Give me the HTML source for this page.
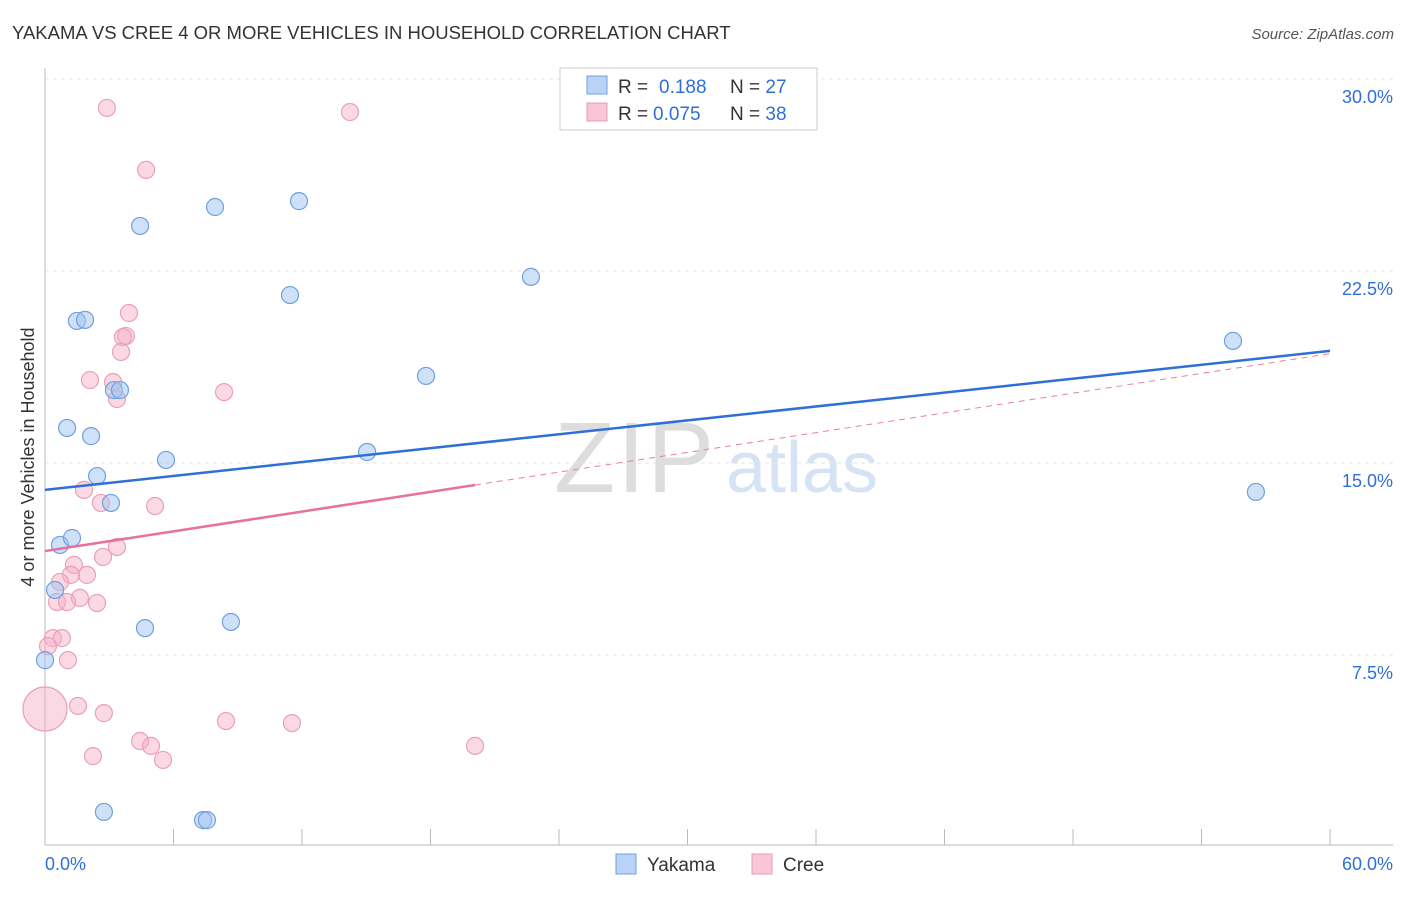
<!DOCTYPE html>
<html><head><meta charset="utf-8"><style>
body{margin:0;background:#fff;font-family:"Liberation Sans",sans-serif;}
svg text{font-family:"Liberation Sans",sans-serif;}
</style></head><body>
<svg id="c" width="1406" height="892" xmlns="http://www.w3.org/2000/svg">
<text x="12" y="39" font-size="18.5" fill="#333">YAKAMA VS CREE 4 OR MORE VEHICLES IN HOUSEHOLD CORRELATION CHART</text>
<text x="1394" y="39" font-size="15" fill="#555" font-style="italic" text-anchor="end">Source: ZipAtlas.com</text>
<text x="634" y="492" font-size="100" fill="#ddd" font-family="Liberation Serif" text-anchor="middle" textLength="160">ZIP</text>
<text x="802" y="492" font-size="72" fill="#d6e3f5" text-anchor="middle">atlas</text>
<g id="grid"></g><g id="axes"></g><g id="marks"></g>
<text transform="translate(34,457) rotate(-90)" font-size="18" fill="#333" text-anchor="middle">4 or more Vehicles in Household</text>
<g>
<rect x="560" y="68" width="257" height="62" fill="#fff" stroke="#ccc"/>
<rect x="587" y="76" width="20" height="18" fill="#b8d3f5" stroke="#6fa0e0"/>
<rect x="587" y="103" width="20" height="18" fill="#f9c6d6" stroke="#e99ab4"/>
<text x="618" y="93" font-size="19" fill="#333">R = </text>
<text x="659" y="93" font-size="19" fill="#2f6fd6">0.188</text>
<text x="730" y="93" font-size="19" fill="#333">N = <tspan fill="#2f6fd6">27</tspan></text>
<text x="618" y="120" font-size="19" fill="#333">R = </text>
<text x="653" y="120" font-size="19" fill="#2f6fd6">0.075</text>
<text x="730" y="120" font-size="19" fill="#333">N = <tspan fill="#2f6fd6">38</tspan></text>
</g>
<g>
<rect x="616" y="854" width="20" height="20" fill="#b8d3f5" stroke="#6fa0e0"/>
<text x="647" y="871" font-size="19" fill="#333">Yakama</text>
<rect x="752" y="854" width="20" height="20" fill="#f9c6d6" stroke="#e99ab4"/>
<text x="783" y="871" font-size="19" fill="#333">Cree</text>
</g>
</svg>
<script>
const yTicks=[30,22.5,15,7.5];
const yTickLabels=["30.0%","22.5%","15.0%","7.5%"];
const xTickLabels=["0.0%","60.0%"];
const yakamaX=[4.44,7.94,11.86,11.44,22.69,1.49,1.87,17.79,55.47,3.22,3.50,1.03,2.15,5.65,15.04,2.43,3.08,56.54,0.70,1.26,0.47,4.67,8.68,0,2.75,7.38,7.56];
const yakamaY=[24.26,25.0,25.23,21.56,22.27,20.55,20.59,18.40,19.77,17.85,17.85,16.37,16.05,15.12,15.43,14.49,13.44,13.87,11.80,12.07,10.04,8.55,8.79,7.30,1.37,1.05,1.05];
const creeX=[2.89,14.24,4.72,3.92,3.78,3.64,3.55,2.10,3.18,8.36,3.36,1.82,2.61,5.14,3.36,2.71,1.35,1.21,1.96,0.70,1.63,0.56,1.03,2.43,0.37,0.79,0.14,1.07,0,1.54,2.75,8.45,11.53,4.44,4.95,5.51,2.24,20.08];
const creeY=[28.87,28.71,26.45,20.86,19.96,19.92,19.34,18.24,18.16,17.77,17.5,13.95,13.44,13.32,11.72,11.33,11.02,10.63,10.63,10.35,9.73,9.57,9.57,9.53,8.16,8.16,7.85,7.30,5.39,5.51,5.23,4.92,4.84,4.14,3.95,3.40,3.55,3.95];
const creeBig=[28];
const yakamaTrend=[13.95,19.38];
const creeTrend=[11.56,19.27];
const creeSolidEnd=20.08;
const NS="http://www.w3.org/2000/svg";
const X=v=>45+v/60*1285, Y=v=>847-v/7.5*192;
function mk(tag,attrs,parent){const e=document.createElementNS(NS,tag);for(const k in attrs)e.setAttribute(k,attrs[k]);parent.appendChild(e);return e;}
const grid=document.getElementById('grid'),axes=document.getElementById('axes'),marks=document.getElementById('marks');
yTicks.forEach((t,i)=>{
 const l=mk('line',{x1:45,x2:1393,y1:Y(t),y2:Y(t),stroke:'#e4e4e4','stroke-dasharray':'4,4'},grid);
 
 
 const tx=mk('text',{x:1393,y:Y(t)+24,'font-size':18,fill:'#2f6fd6','text-anchor':'end'},grid);
 tx.textContent=yTickLabels[i];
 
 
});
let a=mk('line',{x1:45,x2:45,y1:68,y2:845,stroke:'#bbb'},axes);


a=mk('line',{x1:45,x2:1393,y1:845,y2:845,stroke:'#bbb'},axes);


for(let v=0;v<=60;v+=6){
 const t=mk('line',{x1:X(v),x2:X(v),y1:829,y2:845,stroke:'#bbb'},axes);
 
 
}
[[0,'start',45],[60,'end',1393]].forEach((d,i)=>{
 const t=mk('text',{x:d[2],y:870,'font-size':18,fill:'#2f6fd6','text-anchor':d[1]},axes);
 t.textContent=xTickLabels[i];
 
 
});
creeX.forEach((x,i)=>{
 const c=mk('circle',{cx:X(x),cy:Y(creeY[i]),r:creeBig.includes(i)?22:8.5,fill:'rgba(246,170,195,0.45)',stroke:'#eaa0b8','stroke-width':1.2},marks);
 
 
});
yakamaX.forEach((x,i)=>{
 const c=mk('circle',{cx:X(x),cy:Y(yakamaY[i]),r:8.5,fill:'rgba(160,196,240,0.5)',stroke:'#6fa0e0','stroke-width':1.2},marks);
 
 
});
const cs=(creeTrend[1]-creeTrend[0])/60;
let l=mk('line',{x1:X(creeSolidEnd),y1:Y(creeTrend[0]+cs*creeSolidEnd),x2:X(60),y2:Y(creeTrend[1]),stroke:'#e87fa0','stroke-width':1,'stroke-dasharray':'6,5'},marks);


l=mk('line',{x1:X(0),y1:Y(creeTrend[0]),x2:X(creeSolidEnd),y2:Y(creeTrend[0]+cs*creeSolidEnd),stroke:'#e8709a','stroke-width':2.5},marks);


l=mk('line',{x1:X(0),y1:Y(yakamaTrend[0]),x2:X(60),y2:Y(yakamaTrend[1]),stroke:'#2f6fd6','stroke-width':2.5},marks);


</script>
</body></html>
